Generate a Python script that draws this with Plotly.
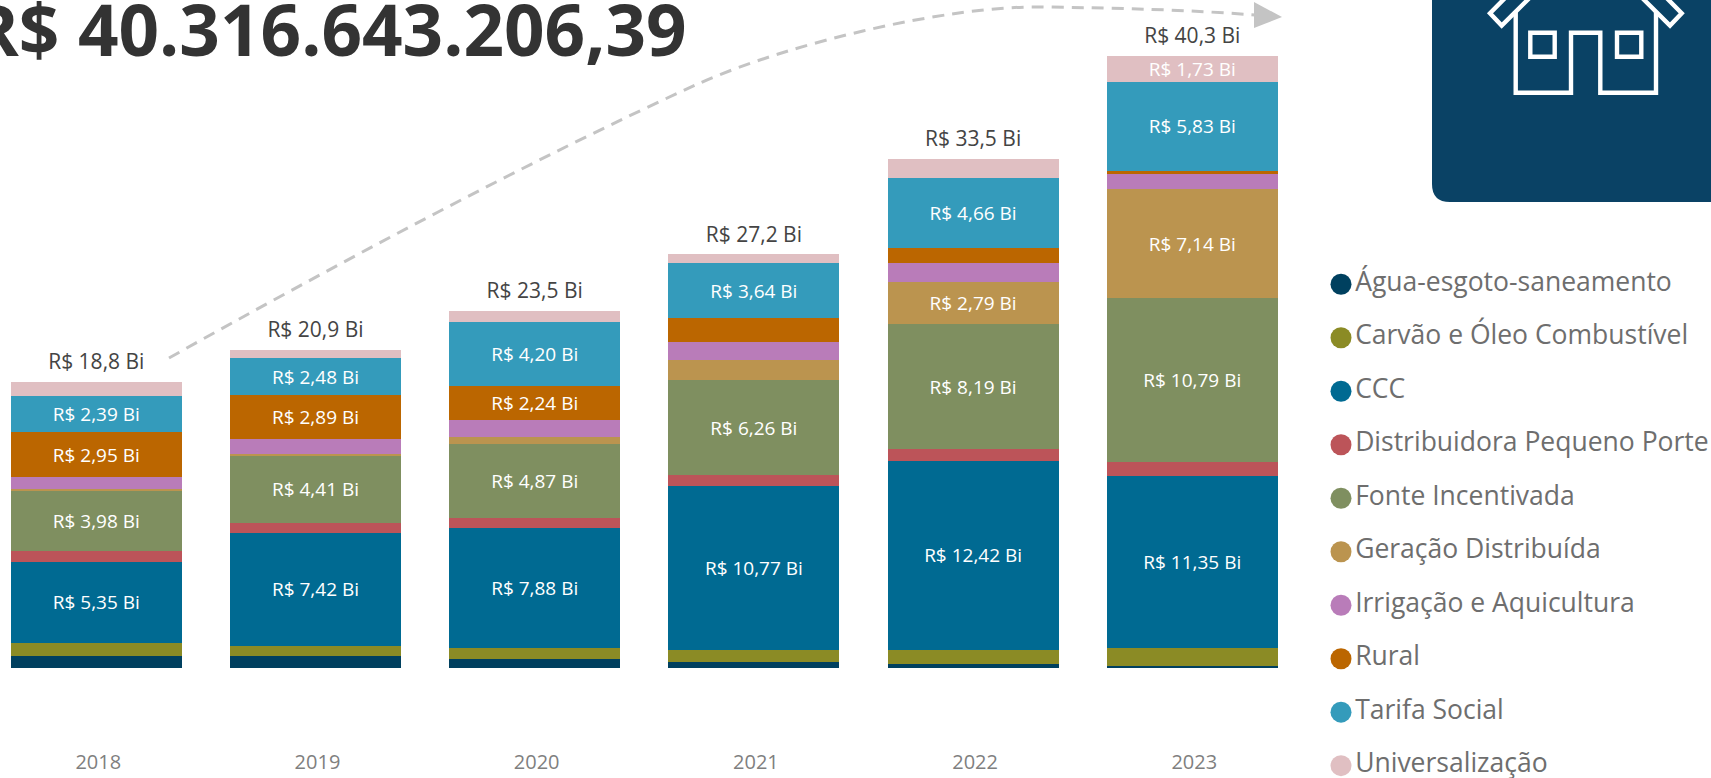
import plotly.graph_objects as go

years = ["2018", "2019", "2020", "2021", "2022", "2023"]
series_names = ["Água-esgoto-saneamento", "Carvão e Óleo Combustível", "CCC", "Distribuidora Pequeno Porte",
                "Fonte Incentivada", "Geração Distribuída", "Irrigação e Aquicultura", "Rural", "Tarifa Social", "Universalização"]
series_colors = ["#00405f", "#8b8b25", "#006a92", "#bc5459", "#7f8f60", "#bb944f", "#b97cb9", "#bb6600", "#349bbb", "#e0bfc2"]

agua = [0.77, 0.79, 0.57, 0.40, 0.24, 0.10]
carvao = [0.88, 0.68, 0.75, 0.81, 0.97, 1.20]
ccc = [5.35, 7.42, 7.88, 10.77, 12.42, 11.35]
distribuidora = [0.72, 0.68, 0.70, 0.70, 0.80, 0.93]
fonte = [3.98, 4.41, 4.87, 6.26, 8.19, 10.79]
geracao = [0.07, 0.13, 0.44, 1.34, 2.79, 7.14]
irrigacao = [0.79, 0.94, 1.10, 1.18, 1.25, 1.01]
rural = [2.95, 2.89, 2.24, 1.56, 0.97, 0.22]
tarifa = [2.39, 2.48, 4.20, 3.64, 4.66, 5.83]
universalizacao = [0.92, 0.50, 0.75, 0.59, 1.22, 1.73]
totals = [18.8, 20.9, 23.5, 27.2, 33.5, 40.3]
headline = "R$ 40.316.643.206,39"

all_series = [agua, carvao, ccc, distribuidora, fonte, geracao, irrigacao, rural, tarifa, universalizacao]
FONT = "Open Sans"
W, H = 1711, 778
PX_PER_UNIT = 15.19
BASE = 668
AXIS_BOTTOM = 748


def br(v, d):
    return f"{v:.{d}f}".replace(".", ",")


def px(x):
    return x / W


def py(y):
    return 1 - y / H


def path(points, close=False):
    s = "M " + " L ".join(f"{px(x):.5f} {py(y):.5f}" for x, y in points)
    return s + (" Z" if close else "")


fig = go.Figure()
for name, color, vals in zip(series_names, series_colors, all_series):
    fig.add_trace(go.Bar(
        x=years, y=vals, name=name, marker=dict(color=color, line=dict(width=0)),
        text=[f"R$ {br(v, 2)} Bi" if v >= 1.7 else "" for v in vals],
        textposition="inside", insidetextanchor="middle", textangle=0, constraintext="none",
        textfont=dict(family=FONT, size=19, color="#ffffff"), showlegend=False, hoverinfo="skip"))

fig.add_trace(go.Scatter(
    x=years, y=totals, mode="markers+text", text=[f"R$ {br(v, 1)} Bi" for v in totals],
    textposition="top center", textfont=dict(family=FONT, size=21, color="#444444"),
    marker=dict(size=11, opacity=0), showlegend=False, hoverinfo="skip", cliponaxis=False))

fig.add_trace(go.Scatter(
    x=[0] * len(series_names), y=series_names, mode="markers+text", text=series_names,
    textposition="middle right", xaxis="x2", yaxis="y2", cliponaxis=False,
    marker=dict(size=21, color=series_colors, line=dict(width=0)),
    textfont=dict(family=FONT, size=26.5, color="#6e6e6e"), showlegend=False, hoverinfo="skip"))

shapes = []
c = lambda x, y: f"{px(x):.5f} {py(y):.5f}"
curve = (f"M {c(169,358)} C {c(330,268)}, {c(530,160)}, {c(700,83)} "
         f"C {c(790,43)}, {c(950,5)}, {c(1044,7)} C {c(1120,8)}, {c(1190,10)}, {c(1255,15)}")
shapes.append(dict(type="path", xref="paper", yref="paper", path=curve,
                   line=dict(color="#c4c4c4", width=3, dash="12px,8px")))
shapes.append(dict(type="path", xref="paper", yref="paper",
                   path=path([(1254, 2), (1282, 17), (1254, 28)], True),
                   fillcolor="#c4c4c4", line=dict(width=0)))
panel = (f"M {c(1432,-5)} L {c(1432,184)} Q {c(1432,202)}, {c(1450,202)} L {c(1716,202)} L {c(1716,-5)} Z")
shapes.append(dict(type="path", xref="paper", yref="paper", path=panel, fillcolor="#0a4265", line=dict(width=0)))
mirror = lambda pts: [(3171.7 - x, y) for x, y in pts]
white = dict(color="#ffffff", width=4.4)
left_band = [(1509, -6), (1490, 13.3), (1501.7, 25.5), (1532, -4.5)]
house = [(1515.7, 11.5), (1515.7, 92.7), (1571, 92.7), (1571, 32.7), (1600.3, 32.7), (1600.3, 92.7), (1656, 92.7), (1656, 11.5)]
for pts, closed in [(left_band, False), (mirror(left_band), False), (house, False),
                    ([(1530.3, 32.7), (1554.7, 32.7), (1554.7, 56.7), (1530.3, 56.7)], True),
                    ([(1617, 32.7), (1641.3, 32.7), (1641.3, 56.7), (1617, 56.7)], True)]:
    shapes.append(dict(type="path", xref="paper", yref="paper", path=path(pts, closed), line=white))

fig.update_layout(
    width=W, height=H, margin=dict(l=0, r=0, t=0, b=0), paper_bgcolor="#ffffff", plot_bgcolor="rgba(0,0,0,0)",
    barmode="stack", bargap=0.22, showlegend=False, shapes=shapes,
    xaxis=dict(type="category", domain=[0, px(1300)], range=[-0.4393, 5.4914], showgrid=False, showline=False,
               zeroline=False, ticks="", ticklabelshift=2,
               tickfont=dict(family=FONT, size=20, color="#7f7f7f"), fixedrange=True),
    yaxis=dict(domain=[py(AXIS_BOTTOM), 1], range=[-(AXIS_BOTTOM - BASE) / PX_PER_UNIT, BASE / PX_PER_UNIT], visible=False,
               showgrid=False, zeroline=False, fixedrange=True),
    xaxis2=dict(domain=[px(1330), 1], range=[-11, 370], visible=False, anchor="y2", fixedrange=True),
    yaxis2=dict(domain=[0, py(257.5)], type="category", categoryorder="array", categoryarray=series_names,
                range=[9.23, -0.5], visible=False, anchor="x2", fixedrange=True),
    annotations=[dict(xref="paper", yref="paper", x=px(689), y=py(28), xanchor="right", yanchor="middle",
                      text=headline, showarrow=False, font=dict(family=FONT, size=71, color="#333333", weight=700))],
)

fig.write_html("out.html", config=dict(displayModeBar=False),
               post_script="document.body.style.margin='0';document.body.style.overflow='hidden';")
